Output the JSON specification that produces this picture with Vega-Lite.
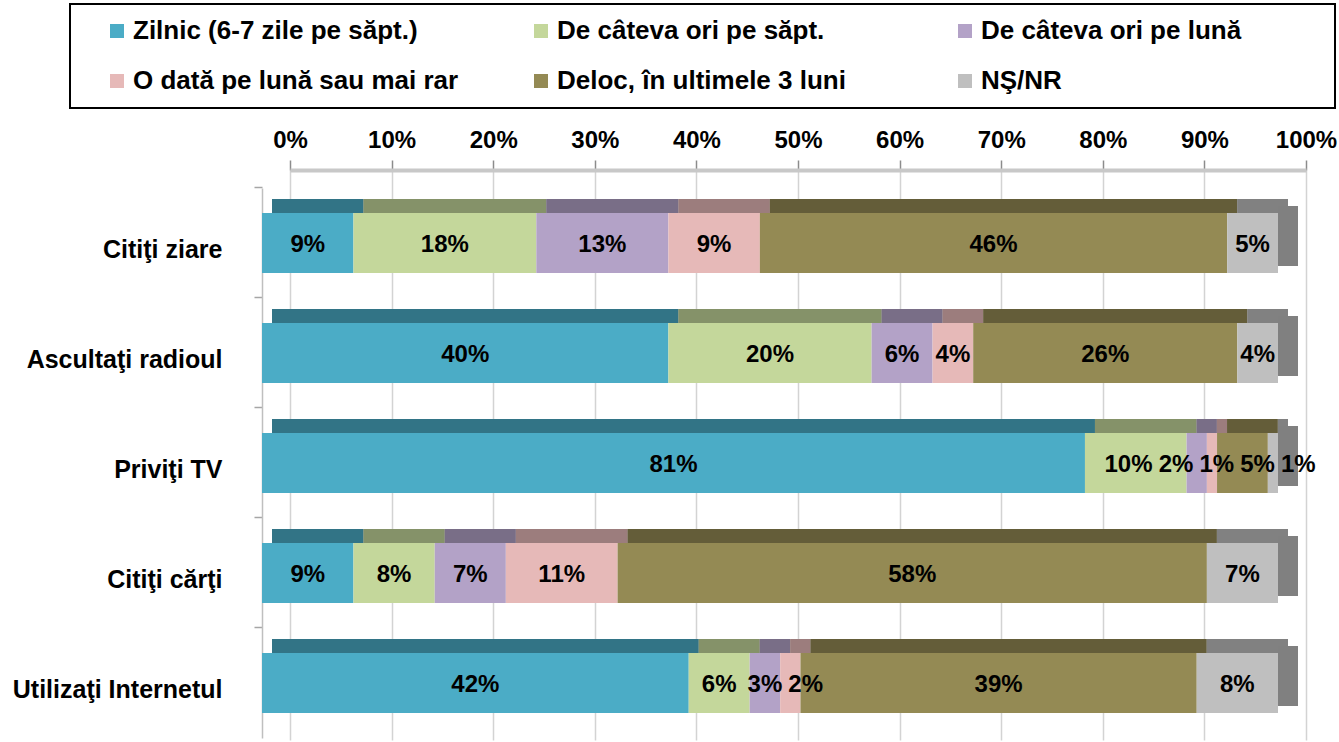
{
  "$schema": "https://vega.github.io/schema/vega-lite/v6.json",
  "width": 1044,
  "height": 570,
  "autosize": "none",
  "padding": {"left": 262, "top": 170, "right": 33, "bottom": 2},
  "background": "white",
  "data": {
    "values": [
      {"cat": "Citiţi ziare", "series": "Zilnic (6-7 zile pe săpt.)", "v": 9},
      {"cat": "Citiţi ziare", "series": "De câteva ori pe săpt.", "v": 18},
      {"cat": "Citiţi ziare", "series": "De câteva ori pe lună", "v": 13},
      {"cat": "Citiţi ziare", "series": "O dată pe lună sau mai rar", "v": 9},
      {"cat": "Citiţi ziare", "series": "Deloc, în ultimele 3 luni", "v": 46},
      {"cat": "Citiţi ziare", "series": "NŞ/NR", "v": 5},
      {"cat": "Ascultaţi radioul", "series": "Zilnic (6-7 zile pe săpt.)", "v": 40},
      {"cat": "Ascultaţi radioul", "series": "De câteva ori pe săpt.", "v": 20},
      {"cat": "Ascultaţi radioul", "series": "De câteva ori pe lună", "v": 6},
      {"cat": "Ascultaţi radioul", "series": "O dată pe lună sau mai rar", "v": 4},
      {"cat": "Ascultaţi radioul", "series": "Deloc, în ultimele 3 luni", "v": 26},
      {"cat": "Ascultaţi radioul", "series": "NŞ/NR", "v": 4},
      {"cat": "Priviţi TV", "series": "Zilnic (6-7 zile pe săpt.)", "v": 81},
      {"cat": "Priviţi TV", "series": "De câteva ori pe săpt.", "v": 10},
      {"cat": "Priviţi TV", "series": "De câteva ori pe lună", "v": 2},
      {"cat": "Priviţi TV", "series": "O dată pe lună sau mai rar", "v": 1},
      {"cat": "Priviţi TV", "series": "Deloc, în ultimele 3 luni", "v": 5},
      {"cat": "Priviţi TV", "series": "NŞ/NR", "v": 1},
      {"cat": "Citiţi cărţi", "series": "Zilnic (6-7 zile pe săpt.)", "v": 9},
      {"cat": "Citiţi cărţi", "series": "De câteva ori pe săpt.", "v": 8},
      {"cat": "Citiţi cărţi", "series": "De câteva ori pe lună", "v": 7},
      {"cat": "Citiţi cărţi", "series": "O dată pe lună sau mai rar", "v": 11},
      {"cat": "Citiţi cărţi", "series": "Deloc, în ultimele 3 luni", "v": 58},
      {"cat": "Citiţi cărţi", "series": "NŞ/NR", "v": 7},
      {"cat": "Utilizaţi Internetul", "series": "Zilnic (6-7 zile pe săpt.)", "v": 42},
      {"cat": "Utilizaţi Internetul", "series": "De câteva ori pe săpt.", "v": 6},
      {"cat": "Utilizaţi Internetul", "series": "De câteva ori pe lună", "v": 3},
      {"cat": "Utilizaţi Internetul", "series": "O dată pe lună sau mai rar", "v": 2},
      {"cat": "Utilizaţi Internetul", "series": "Deloc, în ultimele 3 luni", "v": 39},
      {"cat": "Utilizaţi Internetul", "series": "NŞ/NR", "v": 8}
    ]
  },
  "transform": [
    {"calculate": "indexof(['Zilnic (6-7 zile pe săpt.)','De câteva ori pe săpt.','De câteva ori pe lună','O dată pe lună sau mai rar','Deloc, în ultimele 3 luni','NŞ/NR'], datum.series)", "as": "ord"},
    {"stack": "v", "groupby": ["cat"], "sort": [{"field": "ord", "order": "ascending"}], "as": ["x0", "x1"]},
    {"calculate": "(datum.x0 + datum.x1) / 2", "as": "mid"},
    {"calculate": "datum.v + '%'", "as": "lbl"},
    {"calculate": "(length(datum.lbl) - 1) * 0.657 + 1.05", "as": "h"},
    {"window": [{"op": "sum", "field": "h", "as": "hc"}], "groupby": ["cat"], "sort": [{"field": "ord", "order": "ascending"}], "frame": [null, 0]},
    {"calculate": "2 * datum.hc - datum.h + datum.ord * 0.6", "as": "T"},
    {"calculate": "datum.mid - datum.T", "as": "a"},
    {"window": [{"op": "max", "field": "a", "as": "amax"}], "groupby": ["cat"], "sort": [{"field": "ord", "order": "ascending"}], "frame": [null, 0]},
    {"calculate": "datum.amax", "as": "b"},
    {"window": [{"op": "min", "field": "b", "as": "bmin"}], "groupby": ["cat"], "sort": [{"field": "ord", "order": "ascending"}], "frame": [0, null]},
    {"joinaggregate": [{"op": "max", "field": "T", "as": "Tl"}], "groupby": ["cat"]},
    {"calculate": "min(datum.bmin + datum.T, 102 - (datum.Tl - datum.T))", "as": "lx"}
  ],
  "layer": [
    {
      "mark": {"type": "rule", "opacity": 0},
      "encoding": {
        "x": {
          "field": "x1",
          "type": "quantitative",
          "scale": {"domain": [0, 100], "range": [28, 1044], "nice": false, "zero": false},
          "axis": {
            "orient": "top",
            "values": [0, 10, 20, 30, 40, 50, 60, 70, 80, 90, 100],
            "labelExpr": "datum.value + '%'",
            "title": null,
            "grid": true,
            "gridColor": "#d3d3d3",
            "gridWidth": 1.5,
            "domain": true,
            "domainColor": "#c8c8c8",
            "domainWidth": 4,
            "ticks": true,
            "tickColor": "#8c8c8c",
            "tickSize": 10,
            "tickWidth": 1.5,
            "labelPadding": 13,
            "labelBaseline": "alphabetic",
            "labelFont": "Liberation Sans",
            "labelFontSize": 24,
            "labelFontWeight": "bold",
            "labelColor": "#000000",
            "labelFlush": false,
            "labelOverlap": false
          }
        }
      }
    },
    {
      "encoding": {
        "y": {
          "field": "cat",
          "type": "nominal",
          "sort": null,
          "scale": {"range": [18, 568], "paddingInner": 0.4545, "paddingOuter": 0.2273},
          "axis": {
            "title": null,
            "orient": "left",
            "bandPosition": -0.4167,
            "labelOffset": 7,
            "domain": true,
            "domainColor": "#bfbfbf",
            "domainWidth": 1.5,
            "ticks": true,
            "tickColor": "#a6a6a6",
            "tickSize": 8,
            "tickWidth": 1.5,
            "grid": false,
            "labelPadding": 32,
            "labelFont": "Liberation Sans",
            "labelFontSize": 25,
            "labelFontWeight": "bold",
            "labelColor": "#000000",
            "labelLimit": 0
          }
        }
      },
      "layer": [
        {
          "mark": {"type": "bar", "size": 14, "yOffset": -37, "xOffset": 10, "x2Offset": 10},
          "encoding": {
            "x": {"field": "x0", "type": "quantitative", "axis": null},
            "x2": {"field": "x1"},
            "color": {"field": "series", "type": "nominal"}
          }
        },
        {
          "mark": {"type": "bar", "size": 14, "yOffset": -37, "xOffset": 10, "x2Offset": 10, "color": "#000000", "opacity": 0.32},
          "encoding": {
            "x": {"field": "x0", "type": "quantitative", "axis": null},
            "x2": {"field": "x1"}
          }
        },
        {
          "transform": [{"filter": "datum.ord == 5"}],
          "mark": {"type": "bar", "color": "#808080", "yOffset": -7, "x2Offset": 20},
          "encoding": {
            "x": {"field": "x1", "type": "quantitative", "axis": null},
            "x2": {"field": "x1"}
          }
        },
        {
          "mark": {"type": "bar"},
          "encoding": {
            "x": {"field": "x0", "type": "quantitative", "scale": {"domain": [0, 100], "range": [0, 1016], "nice": false, "zero": false}, "axis": null},
            "x2": {"field": "x1"},
            "color": {
              "field": "series",
              "type": "nominal",
              "scale": {
                "domain": ["Zilnic (6-7 zile pe săpt.)", "De câteva ori pe săpt.", "De câteva ori pe lună", "O dată pe lună sau mai rar", "Deloc, în ultimele 3 luni", "NŞ/NR"],
                "range": ["#4BACC6", "#C4D79B", "#B3A2C7", "#E6B9B8", "#948A54", "#BFBFBF"]
              },
              "legend": {
                "orient": "none",
                "legendX": -192,
                "legendY": -166,
                "direction": "horizontal",
                "columns": 3,
                "gridAlign": "all",
                "columnPadding": 49,
                "rowPadding": 24,
                "padding": 14,
                "strokeColor": "#000000",
                "fillColor": "#ffffff",
                "symbolType": "square",
                "symbolSize": 196,
                "symbolStrokeWidth": 0,
                "symbolOpacity": 1,
                "symbolOffset": 20,
                "labelFont": "Liberation Sans",
                "labelFontSize": 26,
                "labelFontWeight": "bold",
                "labelColor": "#000000",
                "labelOffset": 3,
                "labelLimit": 0,
                "labelExpr": "datum.label + '\u00a0\u00a0\u00a0\u00a0\u00a0\u00a0\u00a0\u00a0\u00a0\u00a0\u00a0'",
                "title": "M",
                "titleOrient": "right",
                "titleFontSize": 10,
                "titleOpacity": 0,
                "titlePadding": 71
              }
            }
          }
        },
        {
          "mark": {"type": "text", "font": "Liberation Sans", "fontSize": 24, "fontWeight": "bold", "color": "#000000", "baseline": "middle", "dy": 2},
          "encoding": {
            "x": {"field": "lx", "type": "quantitative", "axis": null},
            "text": {"field": "lbl"}
          }
        }
      ]
    }
  ],
  "resolve": {"scale": {"x": "independent"}},
  "config": {
    "view": {"stroke": null},
    "legend": {"strokeWidth": 2}
  }
}
